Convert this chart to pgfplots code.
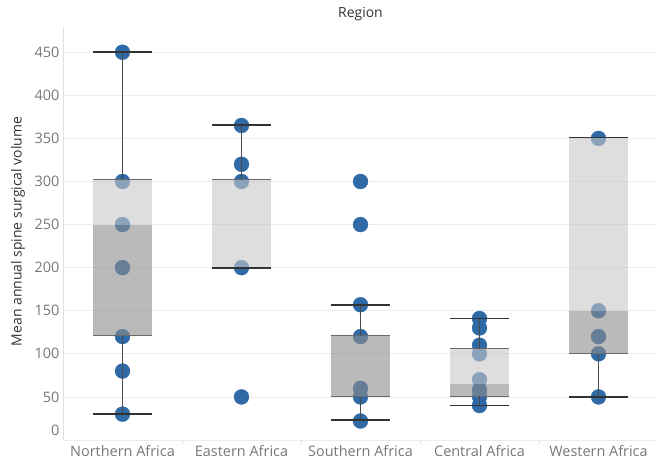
\documentclass[border=0pt]{standalone}
\usepackage{fontspec}
\setmainfont{Open Sans}
\usepackage{pgfplots}
\pgfplotsset{compat=1.18}
\definecolor{ptblue}{HTML}{2F6AA7}
\definecolor{tickgray}{HTML}{777777}
\definecolor{labgray}{HTML}{333333}
\definecolor{boxlight}{HTML}{C8C8C8}
\definecolor{boxdark}{HTML}{8C8C8C}
\definecolor{whisk}{HTML}{4A4A4A}
\definecolor{capc}{HTML}{333333}
\definecolor{edgec}{HTML}{6A6A6A}
\begin{document}
\begin{tikzpicture}
\useasboundingbox (0bp,0bp) rectangle (656bp,459bp);
\clip (0bp,0bp) rectangle (656bp,459bp);
\begin{axis}[
  at={(63bp,19bp)}, anchor=south west,
  scale only axis, width=595bp, height=413bp,
  xmin=-0.5, xmax=4.5, ymin=0, ymax=479.3,
  axis x line*=bottom, axis y line*=left,
  axis line style={draw=black!12, line width=0.8bp},
  xtick={0,1,2,3,4},
  xticklabels={Northern Africa,Eastern Africa,Southern Africa,Central Africa,Western Africa},
  xticklabel style={font=\fontsize{14.5}{16}\selectfont, color=tickgray, anchor=base, yshift=-16bp},
  major tick length=0pt,
  extra x ticks={0.5,1.5,2.5,3.5},
  extra x tick labels={},
  extra x tick style={major tick length=4bp, tick align=outside, tick style={draw=black!15, line width=0.8bp}, grid=none},
  ytick={50,100,...,450},
  extra y ticks={0},
  extra y tick style={yticklabel style={yshift=10bp}},
  ymajorgrids, grid style={draw=black!7, line width=0.8bp},
  yticklabel style={font=\fontsize{14.5}{16}\selectfont, color=tickgray},
  /pgf/number format/assume math mode=true,
  ylabel={Mean annual spine surgical volume},
  ylabel style={at={(axis description cs:-0.0756,0.505)}, anchor=center, font=\fontsize{14}{16}\selectfont, color=labgray},
  title={Region},
  title style={at={(axis description cs:0.5,1)}, anchor=base, yshift=4bp, font=\fontsize{14}{16}\selectfont, color=labgray},
  clip=false,
  clip marker paths=true,
]
% data points
\addplot[only marks, color=ptblue, mark=*, mark size=7.5bp, mark options={solid, fill=ptblue, draw=ptblue, line width=0.3bp}] table {
x y
0 450
0 300
0 250
0 200
0 120
0 80
0 30
1 365
1 320
1 300
1 200
1 50
2 300
2 250
2 157
2 120
2 60
2 50
2 22
3 141
3 130
3 110
3 100
3 70
3 58
3 50
3 40
4 350
4 150
4 120
4 100
4 50
};
% boxes: dark (lower quartile to median), light (median to upper quartile)
\addplot[draw=none, fill=boxdark, fill opacity=0.6] coordinates {(-0.245,121) (0.245,121) (0.245,250) (-0.245,250)} -- cycle;
\addplot[draw=none, fill=boxlight, fill opacity=0.6] coordinates {(-0.245,250) (0.245,250) (0.245,302) (-0.245,302)} -- cycle;
\addplot[draw=none, fill=boxlight, fill opacity=0.6] coordinates {(0.755,200) (1.245,200) (1.245,302) (0.755,302)} -- cycle;
\addplot[draw=none, fill=boxdark, fill opacity=0.6] coordinates {(1.755,50) (2.245,50) (2.245,121) (1.755,121)} -- cycle;
\addplot[draw=none, fill=boxdark, fill opacity=0.6] coordinates {(2.755,51) (3.245,51) (3.245,65) (2.755,65)} -- cycle;
\addplot[draw=none, fill=boxlight, fill opacity=0.6] coordinates {(2.755,65) (3.245,65) (3.245,106) (2.755,106)} -- cycle;
\addplot[draw=none, fill=boxdark, fill opacity=0.6] coordinates {(3.755,100) (4.245,100) (4.245,150) (3.755,150)} -- cycle;
\addplot[draw=none, fill=boxlight, fill opacity=0.6] coordinates {(3.755,150) (4.245,150) (4.245,351) (3.755,351)} -- cycle;
% box edges
\addplot[draw=edgec, line width=1.1bp, unbounded coords=jump] coordinates {
(-0.245,121) (0.245,121) (0,nan) (-0.245,302) (0.245,302) (0,nan)
(0.755,302) (1.245,302) (1,nan)
(1.755,50) (2.245,50) (2,nan) (1.755,121) (2.245,121) (2,nan)
(2.755,51) (3.245,51) (3,nan) (2.755,106) (3.245,106) (3,nan)
(3.755,100) (4.245,100) (4,nan) (3.755,351) (4.245,351)
};
% whisker stems
\addplot[draw=whisk, line width=1bp, unbounded coords=jump] coordinates {
(0,30) (0,121) (0,nan) (0,302) (0,450) (0,nan)
(1,302) (1,366) (1,nan)
(2,23) (2,50) (2,nan) (2,121) (2,157) (2,nan)
(3,40) (3,51) (3,nan) (3,106) (3,141) (3,nan)
(4,50) (4,100)
};
% whisker caps
\addplot[draw=capc, line width=1.8bp, unbounded coords=jump] coordinates {
(-0.245,30) (0.245,30) (0,nan) (-0.245,450) (0.245,450) (0,nan)
(0.755,200) (1.245,200) (1,nan) (0.755,366) (1.245,366) (1,nan)
(1.755,23) (2.245,23) (2,nan) (1.755,157) (2.245,157) (2,nan)
(2.755,40) (3.245,40) (3,nan) (2.755,141) (3.245,141) (3,nan)
(3.755,50) (4.245,50) (4,nan) (3.755,351) (4.245,351)
};
\end{axis}
\end{tikzpicture}
\end{document}
